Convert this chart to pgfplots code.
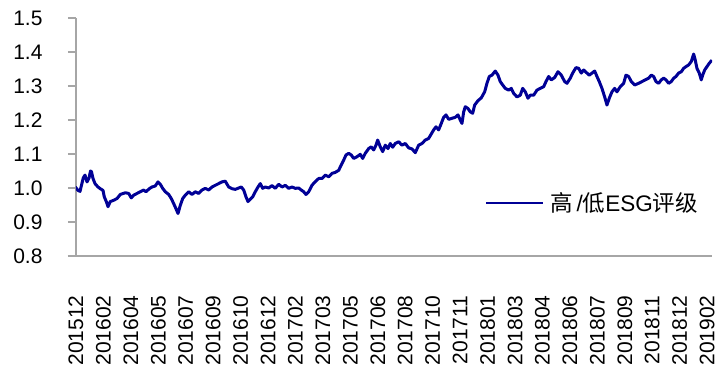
\documentclass[border=0pt]{standalone}
\usepackage{pgfplots}
\usepackage{pgfplotstable}
\pgfplotsset{compat=1.18}
\usepackage{fontspec}
\setmainfont{Liberation Sans}
\newfontfamily\cjk{Noto Sans CJK SC}
\definecolor{esgblue}{RGB}{0,0,150}
\definecolor{axgray}{RGB}{166,166,166}
% px = horizontal position, v = value
\pgfplotstableread{
px v
75.3 1.003
78.0 0.993
80.0 0.990
83.3 1.030
85.0 1.038
87.0 1.018
89.0 1.029
90.5 1.050
91.5 1.048
93.0 1.028
95.0 1.013
98.0 1.003
100.3 0.998
103.0 0.993
104.3 0.974
106.3 0.960
108.0 0.945
110.3 0.960
113.7 0.964
117.0 0.969
120.3 0.981
125.3 0.986
128.7 0.984
131.3 0.971
133.7 0.979
137.0 0.984
140.3 0.989
143.7 0.994
146.0 0.989
149.3 0.998
152.0 1.003
155.3 1.006
158.0 1.018
160.3 1.011
162.7 0.999
165.3 0.989
168.7 0.981
171.3 0.969
173.7 0.954
176.0 0.939
178.0 0.925
180.3 0.949
182.7 0.969
185.3 0.979
188.7 0.989
192.0 0.981
195.3 0.989
198.7 0.984
202.0 0.994
205.3 0.999
208.7 0.994
212.0 1.003
215.3 1.008
218.7 1.013
222.0 1.018
225.3 1.020
228.7 1.003
232.0 0.998
235.3 0.996
238.7 1.000
241.3 1.003
243.7 0.994
246.0 0.974
248.0 0.960
250.3 0.967
252.7 0.974
255.3 0.989
258.0 1.003
260.3 1.013
262.7 0.999
265.3 1.003
268.7 1.000
272.0 1.007
275.3 0.999
278.7 1.011
282.0 1.003
285.3 1.008
288.7 0.999
292.0 1.003
295.3 0.999
298.7 1.000
301.3 0.994
303.7 0.989
306.0 0.981
308.7 0.989
312.0 1.008
315.0 1.018
318.7 1.028
322.0 1.028
325.3 1.038
328.7 1.033
332.0 1.043
335.3 1.046
338.7 1.052
341.3 1.068
343.7 1.082
346.0 1.097
348.7 1.102
351.3 1.097
353.7 1.087
357.0 1.092
360.3 1.099
362.7 1.087
365.3 1.102
368.7 1.116
371.3 1.121
373.7 1.112
376.0 1.126
377.7 1.141
380.3 1.121
382.7 1.107
385.3 1.126
388.0 1.116
390.3 1.131
392.7 1.120
395.3 1.131
398.7 1.136
402.0 1.126
405.3 1.131
408.7 1.118
412.0 1.115
415.3 1.104
418.7 1.126
422.0 1.131
425.3 1.141
428.7 1.146
431.3 1.159
433.7 1.171
436.0 1.180
438.7 1.171
441.3 1.190
443.7 1.208
446.0 1.215
448.7 1.202
452.0 1.205
455.3 1.208
458.0 1.215
460.3 1.200
462.0 1.190
463.7 1.224
465.3 1.239
468.0 1.234
470.3 1.224
472.7 1.220
474.7 1.244
478.0 1.257
481.3 1.265
484.7 1.283
487.0 1.308
489.3 1.328
492.0 1.332
495.3 1.344
498.0 1.332
500.3 1.313
502.7 1.303
505.3 1.293
508.7 1.288
511.3 1.293
513.7 1.278
517.0 1.268
520.3 1.273
522.7 1.293
525.3 1.283
528.0 1.264
530.3 1.273
533.7 1.273
537.0 1.288
540.3 1.293
543.7 1.298
546.0 1.313
548.7 1.328
551.3 1.318
554.7 1.325
558.0 1.342
561.3 1.332
564.7 1.313
567.0 1.308
570.3 1.323
572.7 1.338
576.0 1.354
578.7 1.352
581.3 1.338
583.7 1.347
587.0 1.338
589.3 1.332
592.0 1.338
594.7 1.344
597.0 1.328
599.3 1.313
602.0 1.293
604.7 1.268
607.0 1.244
609.3 1.264
612.0 1.283
614.7 1.293
617.0 1.283
620.3 1.298
623.7 1.308
626.0 1.332
628.7 1.328
631.3 1.313
634.7 1.303
638.7 1.308
642.0 1.313
645.3 1.318
648.7 1.323
651.3 1.332
653.7 1.328
656.0 1.313
658.7 1.308
661.3 1.318
663.7 1.323
666.0 1.318
668.7 1.308
671.3 1.313
673.7 1.323
676.0 1.328
678.7 1.338
681.3 1.342
683.7 1.352
686.0 1.357
688.7 1.362
691.3 1.372
693.7 1.394
695.3 1.376
697.0 1.352
699.3 1.338
701.3 1.318
702.7 1.332
704.7 1.347
707.0 1.357
709.3 1.367
712.0 1.376
}\esgdata
\begin{document}
\begin{tikzpicture}
\useasboundingbox (-76bp,-119bp) rectangle (647bp,256bp);
\begin{axis}[
  at={(0,0)}, anchor=south west,
  scale only axis, width=636bp, height=238bp,
  xmin=0, xmax=764.9, ymin=0.8, ymax=1.5,
  axis x line*=bottom, axis y line*=left,
  axis line style={-, draw=axgray, line width=1.5bp},
  x axis line style={shorten <=-8bp},
  xtick={0,33,...,759},
  xticklabels={201512,201602,201604,201605,201607,201609,201610,201612,201702,201703,201705,201706,201708,201710,201711,201801,201803,201804,201806,201807,201809,201811,201812,201902},
  ytick={0.8,0.9,1.0,1.1,1.2,1.3,1.4,1.5},
  yticklabels={0.8,0.9,1.0,1.1,1.2,1.3,1.4,1.5},
  tick align=outside,
  major tick length=8bp,
  xtick style={draw=none},
  ytick style={draw=axgray, line width=1.5bp},
  tick label style={font=\fontsize{21bp}{24bp}\selectfont},
  x tick label style={yshift=-28bp, rotate=90, anchor=east},
  y tick label style={xshift=-22bp},
  legend style={at={(0.6435,0.223)}, anchor=west, draw=none, fill=none,
    font=\fontsize{22.5bp}{25bp}\selectfont, inner xsep=0pt},
  legend image code/.code={\draw[esgblue, line width=2bp] (0bp,0bp) -- (57bp,0bp);},
]
\addplot[esgblue, line width=3bp, line join=round] table[x expr=(\thisrow{px}-76)*1.2026, y=v] {\esgdata};
\addlegendentry{\hspace{4bp}{\cjk 高}\,/{\cjk 低}ESG{\cjk 评级}}
\end{axis}
\end{tikzpicture}
\end{document}
